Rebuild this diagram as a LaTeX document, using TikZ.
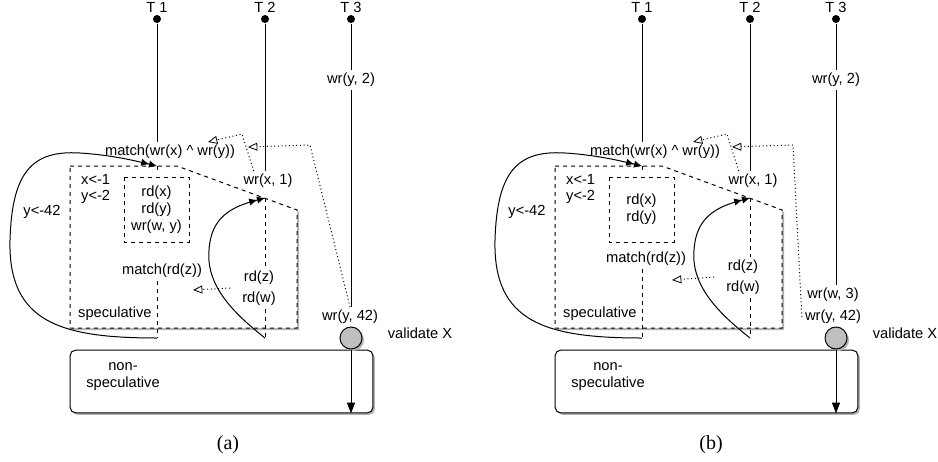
\documentclass[tikz,border=0pt]{standalone}
\usepackage{fontspec}
\setmainfont{Liberation Serif}
\setsansfont{Liberation Sans}
\usetikzlibrary{positioning,arrows.meta,shadows}

\begin{document}
\begin{tikzpicture}[x=0.75pt, y=-0.75pt, line width=0.75pt,
    font=\sffamily\fontsize{11}{12.7}\selectfont,
    txt/.style={inner sep=2pt, align=center},
    thread/.style={circle, fill, inner sep=0pt, minimum size=6pt},
    shadowed/.style={drop shadow={shadow xshift=1.5pt, shadow yshift=-1.5pt, fill=black!30, opacity=1}},
    jump/.style={-{Latex[length=6pt,width=5.5pt]Latex[length=6pt,width=5.5pt]}},
    dep/.style={dotted, -{Triangle[open,length=7pt,width=6pt,line width=0.6pt]}},
    commit/.style={-{Triangle[length=8pt,width=6pt]}},
    nonspec/.style={draw, rounded corners=4pt, fill=white, shadowed, inner sep=0pt, minimum width=227pt, minimum height=47pt},
    validate/.style={circle, draw, fill=gray!50, inner sep=0pt, minimum size=16.5pt, shadowed}]
  \useasboundingbox (0,0) rectangle (938,461);

  % ---------------- Panel (a) ----------------
  % speculative region
  \draw[dashed, fill=white, shadowed] (70,166) -- (177,166) -- (297,210) -- (297,328) -- (70,328) -- cycle;
  \draw[dashed] (124,177) rectangle (189,242);
  % threads
  \node[thread] (T1a) at (157,19) {};
  \node[thread] (T2a) at (265,19) {};
  \node[thread] (T3a) at (351,19) {};
  \node[txt, above=-1pt of T1a] (L1a) {T 1};
  \node[txt, above=-1pt of T2a] (L2a) {T 2};
  \node[txt, above=-1pt of T3a] (L3a) {T 3};
  % labels
  \node[txt] (m1a) at (170,152) {match(wr(x) \textasciicircum\ wr(y))};
  \node[txt] (wxa) at (268,181) {wr(x, 1)};
  \node[txt] (wy2a) at (351,80) {wr(y, 2)};
  \node[txt] (w42a) at (350,317) {wr(y, 42)};
  \node[txt, align=left, anchor=west] (ia) at (78,189) {x<-1\\y<-2};
  \node[txt] (ya) at (42,212) {y<-42};
  \node[txt] (ra) at (156.5,209.5) {rd(x)\\rd(y)\\wr(w, y)};
  \node[txt] (mza) at (162,271) {match(rd(z))};
  \node[txt] (rdza) at (259,278) {rd(z)};
  \node[txt] (rdwa) at (259,299) {rd(w)};
  \node[txt, anchor=west] (spa) at (75,314) {speculative};
  \node[nonspec] (nsa) at (221.5,381.5) {};
  \node[txt] (nta) at (123,377) {non-\\speculative};
  \node[validate] (va) at (351,338) {};
  \node[txt] (vta) at (420,333) {validate X};
  \node[font=\rmfamily\fontsize{15}{18}\selectfont] (capa) at (228,445) {(a)};
  \coordinate (s1a) at (157,166);
  \coordinate (s2a) at (265,198);
  \coordinate (e1a) at (157,338);
  \coordinate (e2a) at (265,338);
  % thread lines
  \draw (T1a) -- (T1a |- m1a.north);
  \draw[dashed] (s1a) -- ++(0,7);
  \draw[dashed] (T1a |- mza.south) -- (e1a);
  \draw (T2a) -- (T2a |- wxa.north);
  \draw[dashed] (s2a) -- (T2a |- rdza.north);
  \draw[dashed] (T2a |- rdwa.south) -- (e2a);
  \draw (T3a) -- (wy2a) -- (T3a |- w42a.north);
  % jumps
  \draw[jump] (e1a) .. controls (60,338) and (8,322) .. (10,240) .. controls (12,172) and (32,150) .. (80,153) .. controls (112,155) and (136,161) .. (s1a);
  \draw[jump] (e2a) .. controls (232,312) and (206,285) .. (209,250) .. controls (211,218) and (230,207) .. (s2a);
  % dependencies
  \coordinate (p1a) at (310,145);
  \coordinate (q1a) at (248,147);
  \coordinate (p2a) at (242,134);
  \coordinate (q2a) at (208,142);
  \coordinate (q3a) at (193,290);
  \draw[dep] (w42a.north) -- (p1a) -- (q1a);
  \draw[dep] ([xshift=10pt]wxa.north west) -- (p2a) -- (q2a);
  \draw[dep] ([xshift=-8pt]rdza.south west) -- (q3a);
  % commit
  \draw[commit] (va) -- (va |- nsa.south);

  % ---------------- Panel (b) ----------------
  \begin{scope}[shift={(485,0)}]
  % speculative region
  \draw[dashed, fill=white, shadowed] (70,166) -- (177,166) -- (297,210) -- (297,328) -- (70,328) -- cycle;
  \draw[dashed] (124,177) rectangle (189,242);
  % threads
  \node[thread] (T1b) at (157,19) {};
  \node[thread] (T2b) at (265,19) {};
  \node[thread] (T3b) at (351,19) {};
  \node[txt, above=-1pt of T1b] (L1b) {T 1};
  \node[txt, above=-1pt of T2b] (L2b) {T 2};
  \node[txt, above=-1pt of T3b] (L3b) {T 3};
  % labels
  \node[txt] (m1b) at (170,152) {match(wr(x) \textasciicircum\ wr(y))};
  \node[txt] (wxb) at (268,181) {wr(x, 1)};
  \node[txt] (wy2b) at (351,80) {wr(y, 2)};
  \node[txt] (ww3b) at (348,295) {wr(w, 3)};
  \node[txt] (w42b) at (348,317) {wr(y, 42)};
  \node[txt, align=left, anchor=west] (ib) at (78,189) {x<-1\\y<-2};
  \node[txt] (yb) at (42,212) {y<-42};
  \node[txt] (rb) at (156.5,209.5) {rd(x)\\rd(y)};
  \node[txt] (mzb) at (161,259) {match(rd(z))};
  \node[txt] (rdzb) at (258,267) {rd(z)};
  \node[txt] (rdwb) at (258,288) {rd(w)};
  \node[txt, anchor=west] (spb) at (75,314) {speculative};
  \node[nonspec] (nsb) at (221.5,381.5) {};
  \node[txt] (ntb) at (123,377) {non-\\speculative};
  \node[validate] (vb) at (351,338) {};
  \node[txt] (vtb) at (420,333) {validate X};
  \node[font=\rmfamily\fontsize{15}{18}\selectfont] (capb) at (226,445) {(b)};
  \coordinate (s1b) at (157,166);
  \coordinate (s2b) at (265,198);
  \coordinate (e1b) at (157,338);
  \coordinate (e2b) at (265,338);
  % thread lines
  \draw (T1b) -- (T1b |- m1b.north);
  \draw[dashed] (s1b) -- ++(0,7);
  \draw[dashed] (T1b |- mzb.south) -- (e1b);
  \draw (T2b) -- (T2b |- wxb.north);
  \draw[dashed] (s2b) -- (T2b |- rdzb.north);
  \draw[dashed] (T2b |- rdwb.south) -- (e2b);
  \draw (T3b) -- (wy2b) -- (T3b |- ww3b.north);
  % jumps
  \draw[jump] (e1b) .. controls (60,338) and (8,322) .. (10,240) .. controls (12,172) and (32,150) .. (80,153) .. controls (112,155) and (136,161) .. (s1b);
  \draw[jump] (e2b) .. controls (232,312) and (206,285) .. (209,250) .. controls (211,218) and (230,207) .. (s2b);
  % dependencies
  \coordinate (p1b) at (308,145);
  \coordinate (q1b) at (247,147);
  \coordinate (p2b) at (242,134);
  \coordinate (q2b) at (208,142);
  \coordinate (q3b) at (187,280);
  \draw[dep] (w42b.west) -- (p1b) -- (q1b);
  \draw[dep] ([xshift=10pt]wxb.north west) -- (p2b) -- (q2b);
  \draw[dep] ([xshift=-8pt]rdzb.south west) -- (q3b);
  % commit
  \draw[commit] (vb) -- (vb |- nsb.south);
  \end{scope}
\end{tikzpicture}
\end{document}
